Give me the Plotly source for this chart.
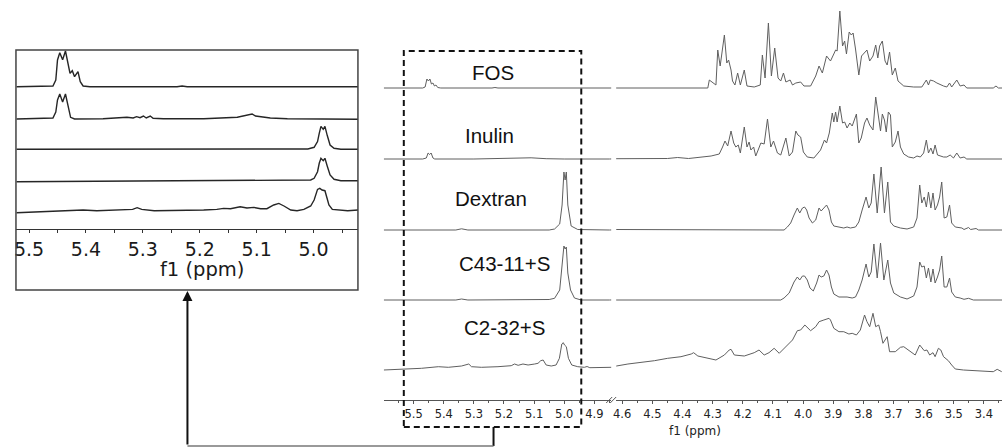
import plotly.graph_objects as go

W, H = 1006, 448

# ---------------- data (ppm, intensity) ----------------
LABELS = ["FOS", "Inulin", "Dextran", "C43-11+S", "C2-32+S"]

FOS_MAIN = [(5.60, 0), (5.47, 0), (5.462, 1), (5.456, 9), (5.451, 7), (5.446, 9), (5.441, 4), (5.436, 5),
            (5.431, 2), (5.426, 3), (5.42, 0.5), (5.41, 0), (5.24, 0), (5.23, 0.5), (5.22, 0), (4.85, 0),
            (4.62, 0), (4.316, 0), (4.311, 8), (4.289, 3), (4.283, 38), (4.275, 22), (4.261, 53), (4.253, 25),
            (4.247, 28), (4.239, 18), (4.234, 7), (4.226, 3), (4.217, 15), (4.208, 3), (4.195, 18), (4.186, 2),
            (4.162, 1), (4.142, 3), (4.135, 33), (4.126, 10), (4.115, 65), (4.105, 12), (4.094, 40), (4.083, 10),
            (4.074, 7), (4.065, 15), (4.057, 6), (4.043, 8), (4.035, 3), (4.024, 5), (4.008, 6), (3.997, 2),
            (3.975, 2), (3.958, 12), (3.947, 22), (3.936, 15), (3.922, 32), (3.909, 27), (3.898, 34), (3.892, 38),
            (3.887, 37), (3.878, 77), (3.869, 42), (3.862, 47), (3.856, 34), (3.847, 56), (3.840, 53), (3.834, 55),
            (3.826, 39), (3.815, 13), (3.806, 32), (3.796, 35), (3.788, 38), (3.779, 27), (3.768, 32), (3.759, 43),
            (3.752, 30), (3.746, 42), (3.737, 47), (3.728, 27), (3.721, 23), (3.713, 36), (3.704, 13), (3.694, 20),
            (3.685, 7), (3.666, 2), (3.633, 1), (3.606, 1), (3.591, 8), (3.584, 3), (3.578, 8), (3.567, 7),
            (3.556, 5), (3.534, 2), (3.523, 1), (3.514, 5), (3.507, 1), (3.490, 8), (3.479, 2), (3.466, 3),
            (3.457, 0), (3.369, 0), (3.360, 2), (3.352, 0), (3.34, 0)]

INULIN_MAIN = [(5.60, 0), (5.47, 0), (5.458, 1), (5.452, 6), (5.447, 4.5), (5.442, 6), (5.436, 1), (5.43, 0),
               (5.30, 0), (5.16, 0.5), (5.11, 1.2), (5.06, 0.3), (5.0, 0), (4.85, 0),
               (4.62, 0), (4.45, 0.5), (4.416, 1.5), (4.38, 0.5), (4.305, 3), (4.289, 4), (4.278, 5), (4.267, 12),
               (4.259, 18), (4.250, 13), (4.239, 28), (4.230, 16), (4.223, 12), (4.215, 14), (4.208, 6), (4.195, 32),
               (4.186, 12), (4.179, 17), (4.173, 9), (4.164, 12), (4.157, 3), (4.149, 9), (4.140, 16), (4.129, 15),
               (4.118, 40), (4.107, 12), (4.098, 18), (4.085, 6), (4.074, 4), (4.057, 21), (4.046, 3), (4.035, 7),
               (4.024, 28), (4.017, 24), (4.008, 22), (3.999, 7), (3.986, 2), (3.964, 1), (3.942, 9), (3.929, 19),
               (3.922, 16), (3.913, 26), (3.903, 46), (3.898, 37), (3.892, 47), (3.887, 37), (3.878, 53), (3.869, 36),
               (3.862, 37), (3.854, 31), (3.845, 36), (3.837, 33), (3.829, 39), (3.823, 45), (3.815, 16), (3.807, 21),
               (3.796, 36), (3.788, 41), (3.779, 34), (3.768, 29), (3.759, 62), (3.750, 42), (3.743, 28), (3.737, 45),
               (3.730, 39), (3.724, 27), (3.717, 47), (3.710, 44), (3.704, 12), (3.694, 17), (3.685, 28), (3.677, 12),
               (3.666, 5), (3.650, 2), (3.633, 1), (3.622, 3), (3.611, 2), (3.600, 6), (3.591, 19), (3.584, 6),
               (3.576, 11), (3.569, 5), (3.562, 14), (3.554, 4), (3.534, 2), (3.523, 2), (3.512, 4), (3.501, 1),
               (3.490, 6), (3.479, 1), (3.466, 2), (3.457, 0), (3.34, 0)]

DEXTRAN_MAIN = [(5.60, 0), (5.36, 0), (5.341, 1.2), (5.32, 0), (5.05, 0), (5.032, 1), (5.015, 6), (5.007, 25),
                (5.001, 58), (4.997, 50), (4.993, 58), (4.988, 25), (4.977, 4), (4.955, 0.5), (4.85, 0),
                (4.62, 0.5), (4.30, 0.5), (4.063, 0), (4.052, 3), (4.041, 7), (4.030, 15), (4.019, 22), (4.011, 17),
                (4.002, 22), (3.995, 23), (3.988, 20), (3.980, 12), (3.969, 7), (3.958, 10), (3.947, 22), (3.940, 19),
                (3.931, 22), (3.922, 25), (3.914, 20), (3.906, 8), (3.898, 4), (3.881, 3), (3.865, 2), (3.854, 3),
                (3.843, 2), (3.826, 3), (3.815, 8), (3.804, 20), (3.791, 33), (3.782, 22), (3.774, 27), (3.765, 56),
                (3.754, 17), (3.741, 63), (3.730, 17), (3.719, 48), (3.710, 8), (3.699, 4), (3.677, 2), (3.655, 1),
                (3.633, 3), (3.622, 12), (3.613, 45), (3.606, 27), (3.598, 33), (3.591, 23), (3.584, 38), (3.576, 22),
                (3.569, 37), (3.562, 20), (3.554, 25), (3.547, 33), (3.540, 48), (3.532, 12), (3.523, 13), (3.514, 25),
                (3.507, 7), (3.495, 3), (3.473, 2), (3.466, 0.5), (3.451, 2.5), (3.444, 0.5), (3.426, 1.5),
                (3.418, 0), (3.34, 0)]

C43_MAIN = [(5.60, 0), (5.36, 0), (5.341, 1), (5.32, 0), (5.05, 0.5), (5.032, 1.7), (5.015, 10), (5.007, 37),
            (5.001, 54), (4.997, 51), (4.993, 53), (4.988, 27), (4.979, 10), (4.966, 2), (4.944, 0), (4.85, 0),
            (4.62, 0), (4.074, 0), (4.063, 2), (4.046, 7), (4.030, 18), (4.019, 23), (4.011, 20), (4.002, 24),
            (3.995, 24), (3.986, 20), (3.977, 12), (3.966, 9), (3.955, 17), (3.947, 25), (3.940, 23), (3.931, 24),
            (3.922, 30), (3.914, 25), (3.906, 13), (3.898, 6), (3.881, 3), (3.865, 3), (3.854, 3), (3.837, 2),
            (3.826, 3), (3.815, 10), (3.804, 20), (3.791, 36), (3.782, 23), (3.774, 28), (3.765, 56), (3.754, 22),
            (3.743, 57), (3.732, 20), (3.719, 40), (3.710, 17), (3.699, 7), (3.677, 3), (3.655, 1), (3.633, 4),
            (3.622, 13), (3.613, 38), (3.606, 33), (3.598, 34), (3.591, 22), (3.584, 32), (3.576, 18), (3.569, 31),
            (3.562, 17), (3.554, 23), (3.547, 30), (3.540, 44), (3.532, 13), (3.523, 13), (3.514, 22), (3.507, 8),
            (3.495, 3), (3.479, 2), (3.466, 0.7), (3.451, 1.7), (3.435, 0), (3.34, 0)]

C232_MAIN = [(5.600, -1), (5.540, -0.3), (5.474, 0.7), (5.418, 2.3), (5.385, 1.7), (5.341, 3), (5.317, 5),
             (5.308, 2.3), (5.275, 1.7), (5.220, 2.3), (5.176, 3.3), (5.165, 5), (5.153, 3.7), (5.137, 5),
             (5.120, 4), (5.098, 5), (5.087, 5.7), (5.078, 8.3), (5.070, 9), (5.060, 4), (5.043, 3), (5.027, 4),
             (5.016, 10.7), (5.008, 25), (5.003, 26.3), (4.999, 24), (4.993, 22.3), (4.986, 10.7), (4.975, 4),
             (4.955, 2.3), (4.933, 1.7), (4.924, 2.5), (4.915, 1.3), (4.844, 1.7),
             (4.619, 3), (4.581, 5), (4.537, 6.3), (4.493, 8.3), (4.449, 10.7), (4.405, 12.3), (4.371, 15),
             (4.363, 16.3), (4.349, 13), (4.316, 10.7), (4.289, 9), (4.261, 14), (4.245, 19), (4.239, 19.7),
             (4.228, 14), (4.195, 13), (4.162, 16.3), (4.146, 19), (4.129, 14), (4.113, 16.3), (4.096, 20.7),
             (4.079, 15.7), (4.057, 22.3), (4.035, 29), (4.019, 38.3), (4.008, 39), (3.994, 44), (3.986, 41.7),
             (3.975, 38.3), (3.958, 42.3), (3.947, 47.3), (3.931, 49), (3.914, 50.7), (3.909, 49), (3.898, 40.7),
             (3.881, 37.3), (3.865, 37.3), (3.848, 35), (3.837, 35.7), (3.823, 34), (3.810, 39), (3.796, 54),
             (3.788, 47.3), (3.779, 42.3), (3.768, 55.7), (3.759, 42.3), (3.749, 44), (3.743, 37.3), (3.735, 25.7),
             (3.721, 32.3), (3.713, 17.3), (3.694, 17.3), (3.677, 21.7), (3.666, 22.3), (3.650, 19), (3.628, 14),
             (3.613, 24), (3.606, 20.7), (3.598, 18.3), (3.589, 19), (3.580, 14), (3.569, 16.3), (3.562, 12.3),
             (3.551, 20.7), (3.543, 19), (3.534, 12.3), (3.518, 8.3), (3.507, 4), (3.495, 0), (3.468, -1),
             (3.424, -1.7), (3.391, -2.7), (3.369, -2.7), (3.356, -0.3), (3.341, -2.7)]

# inset spectra (own vertical scaling)
FOS_INSET = [(5.522, 0), (5.458, 0.7), (5.453, 6.7), (5.450, 26.7), (5.446, 34), (5.441, 27), (5.436, 35.7),
             (5.431, 23), (5.428, 13.3), (5.424, 16), (5.420, 10), (5.414, 15), (5.410, 5), (5.405, 0.7),
             (5.393, 0), (5.24, 0), (5.231, 0.7), (5.222, 0), (4.921, 0)]
INULIN_INSET = [(5.522, 0), (5.487, 0.3), (5.458, 1), (5.453, 7), (5.450, 19), (5.446, 25), (5.441, 17),
                (5.436, 25), (5.431, 12), (5.427, 1.7), (5.420, 0), (5.370, 0.3), (5.328, 1.7), (5.317, 1),
                (5.311, 2.3), (5.305, 1.3), (5.299, 3), (5.294, 1), (5.287, 3), (5.282, 0.7), (5.264, 0.3),
                (5.193, 0.3), (5.134, 1.7), (5.123, 3), (5.114, 3.7), (5.108, 5), (5.102, 3), (5.093, 2.3),
                (5.076, 1), (5.046, 0.3), (4.921, -0.3)]
DEXTRAN_INSET = [(5.522, 0), (5.35, 0), (5.334, 0.7), (5.32, 0), (5.01, 0.3), (4.999, 2), (4.993, 7.7),
                 (4.990, 16), (4.987, 23), (4.983, 20), (4.980, 23), (4.976, 14), (4.971, 4.3), (4.964, 1),
                 (4.952, 0), (4.921, 0)]
C43_INSET = [(5.522, -0.7), (5.2, 0), (5.005, 1), (4.999, 2.7), (4.993, 9.3), (4.990, 17.7), (4.987, 22.7),
             (4.983, 20.3), (4.980, 22.7), (4.976, 15), (4.971, 6), (4.964, 1.7), (4.952, 0.3), (4.921, 0.3)]
C232_INSET = [(5.522, -1), (5.475, 0.3), (5.428, 1), (5.405, 1.7), (5.381, 1), (5.335, 1.5), (5.318, 2.3),
              (5.310, 4), (5.302, 2.3), (5.28, 1), (5.252, 1), (5.193, 1.7), (5.170, 2.3), (5.158, 3.3),
              (5.146, 3), (5.129, 5), (5.117, 3.7), (5.105, 4.3), (5.093, 3), (5.082, 3), (5.070, 6.7),
              (5.061, 8.3), (5.052, 5.7), (5.040, 1.7), (5.029, 1), (5.017, 2.3), (5.005, 5.7), (4.999, 11.7),
              (4.993, 22.3), (4.989, 23.3), (4.985, 21.7), (4.980, 21), (4.977, 15), (4.973, 6.7), (4.967, 2.3),
              (4.958, 1.7), (4.940, 1), (4.921, 1.7)]

MAIN_SPECTRA = [FOS_MAIN, INULIN_MAIN, DEXTRAN_MAIN, C43_MAIN, C232_MAIN]
INSET_SPECTRA = [FOS_INSET, INULIN_INSET, DEXTRAN_INSET, C43_INSET, C232_INSET]

TICKS_LEFT = [5.5, 5.4, 5.3, 5.2, 5.1, 5.0, 4.9]
TICKS_RIGHT = [4.6, 4.5, 4.4, 4.3, 4.2, 4.1, 4.0, 3.9, 3.8, 3.7, 3.6, 3.5, 3.4]
TICKS_INSET = [5.5, 5.4, 5.3, 5.2, 5.1, 5.0]
AXIS_TITLE = "f1 (ppm)"

# ---------------- layout helpers ----------------
def px(x):
    return x / W


def py(y):
    return 1 - y / H


MAIN_BASE = [312, 241, 170, 100, 31]          # stacking offsets (plot units = px)
INSET_BASE = [142.3, 110, 79.7, 48, 17.3]
MAIN_COLOR = "#5f5f5f"
INSET_COLOR = "#262626"

fig = go.Figure()

for spec, base in zip(MAIN_SPECTRA, MAIN_BASE):
    xs = [p for p, _ in spec]
    ys = [base + v for _, v in spec]
    for xa in ("x", "x2"):
        fig.add_trace(go.Scatter(x=xs, y=ys, xaxis=xa, yaxis="y", mode="lines",
                                 line=dict(color=MAIN_COLOR, width=1), hoverinfo="skip",
                                 showlegend=False))

for spec, base in zip(INSET_SPECTRA, INSET_BASE):
    xs = [p for p, _ in spec]
    ys = [base + v for _, v in spec]
    fig.add_trace(go.Scatter(x=xs, y=ys, xaxis="x3", yaxis="y3", mode="lines",
                             line=dict(color=INSET_COLOR, width=1.4), hoverinfo="skip",
                             showlegend=False))


def minor_vals(ticks, lo, hi):
    out = []
    step = abs(ticks[1] - ticks[0]) / 2
    v = max(ticks) + step
    while v > min(ticks) - step - 1e-9:
        if lo <= v <= hi:
            out.append(round(v, 3))
        v -= step
    return out


main_tick = dict(showline=True, linecolor="#555", linewidth=1, ticks="outside", ticklen=3,
                 tickcolor="#555", tickwidth=1, showgrid=False, zeroline=False,
                 tickfont=dict(family="DejaVu Sans", size=11.5, color="#222"))

fig.update_layout(
    width=W, height=H, autosize=False,
    margin=dict(l=0, r=0, t=0, b=0),
    paper_bgcolor="white", plot_bgcolor="rgba(0,0,0,0)",
    xaxis=dict(domain=[px(382), px(610)], range=[5.599, 4.844], anchor="y",
               tickmode="array", tickvals=TICKS_LEFT, ticktext=[f"{t:.1f}" for t in TICKS_LEFT],
               minor=dict(tickvals=minor_vals(TICKS_LEFT, 4.844, 5.599), ticklen=2, ticks="outside",
                          tickcolor="#555"),
               **main_tick),
    xaxis2=dict(domain=[px(615), px(1002)], range=[4.62, 3.34], anchor="y",
                tickmode="array", tickvals=TICKS_RIGHT, ticktext=[f"{t:.1f}" for t in TICKS_RIGHT],
                minor=dict(tickvals=minor_vals(TICKS_RIGHT, 3.34, 4.62), ticklen=2, ticks="outside",
                           tickcolor="#555"),
                **main_tick),
    yaxis=dict(domain=[py(400), 1], range=[0, 400], visible=False, anchor="x"),
    xaxis3=dict(domain=[px(13), px(356)], range=[5.523, 4.922], anchor="y3",
                tickmode="array", tickvals=TICKS_INSET, ticktext=[f"{t:.1f}" for t in TICKS_INSET],
                minor=dict(tickvals=minor_vals(TICKS_INSET, 4.922, 5.523), ticklen=3, ticks="outside",
                           tickcolor="#333"),
                showline=True, linecolor="#333", linewidth=1, ticks="outside", ticklen=3,
                tickcolor="#333", showgrid=False, zeroline=False, ticklabelstandoff=0,
                tickfont=dict(family="DejaVu Sans", size=19, color="#1a1a1a")),
    yaxis3=dict(domain=[py(229), py(50)], range=[0, 179], visible=False, anchor="x3"),
)

# axis titles
fig.add_annotation(x=px(694), y=py(431), xref="paper", yref="paper", text=AXIS_TITLE, showarrow=False,
                   font=dict(family="DejaVu Sans", size=12, color="#222"), xanchor="center", yanchor="middle")
fig.add_annotation(x=px(200), y=py(269), xref="paper", yref="paper", text=AXIS_TITLE, showarrow=False,
                   font=dict(family="DejaVu Sans", size=19.5, color="#1a1a1a"), xanchor="center",
                   yanchor="middle")

# spectrum labels
LABEL_POS = [(491, 72), (488, 135), (489, 198), (503, 263), (503, 327)]
for txt, (lx, ly) in zip(LABELS, LABEL_POS):
    fig.add_annotation(x=px(lx), y=py(ly), xref="paper", yref="paper", text=txt, showarrow=False,
                       font=dict(family="Liberation Sans, Arial", size=20.5, color="#111"),
                       xanchor="center", yanchor="middle")

shapes = []
# inset frame
shapes.append(dict(type="rect", xref="paper", yref="paper", x0=px(13), x1=px(356), y0=py(290), y1=py(50),
                   line=dict(color="#444", width=1.5)))
# dashed selection box
shapes.append(dict(type="rect", xref="paper", yref="paper", x0=px(402), x1=px(580), y0=py(427), y1=py(51),
                   line=dict(color="#111", width=2, dash="6px,4px")))
# connector
shapes.append(dict(type="line", xref="paper", yref="paper", x0=px(492), x1=px(492), y0=py(427), y1=py(446),
                   line=dict(color="#111", width=2)))
shapes.append(dict(type="line", xref="paper", yref="paper", x0=px(492), x1=px(185), y0=py(446), y1=py(446),
                   line=dict(color="#777", width=1.5)))
# axis break marks
shapes.append(dict(type="line", xref="paper", yref="paper", x0=px(605), x1=px(611), y0=py(403), y1=py(397),
                   line=dict(color="#555", width=1)))
shapes.append(dict(type="line", xref="paper", yref="paper", x0=px(609), x1=px(615), y0=py(403), y1=py(397),
                   line=dict(color="#555", width=1)))
fig.update_layout(shapes=shapes)

# arrow up to the inset
fig.add_annotation(x=px(185), y=py(291), xref="paper", yref="paper", ax=0, ay=155, axref="pixel",
                   ayref="pixel", text="", showarrow=True, arrowhead=2, arrowsize=1, arrowwidth=2,
                   arrowcolor="#111")

fig.write_html("out.html", config={"displayModeBar": False},
               post_script="document.body.style.margin='0';document.body.style.padding='0';"
                           "document.documentElement.style.overflow='hidden';")
